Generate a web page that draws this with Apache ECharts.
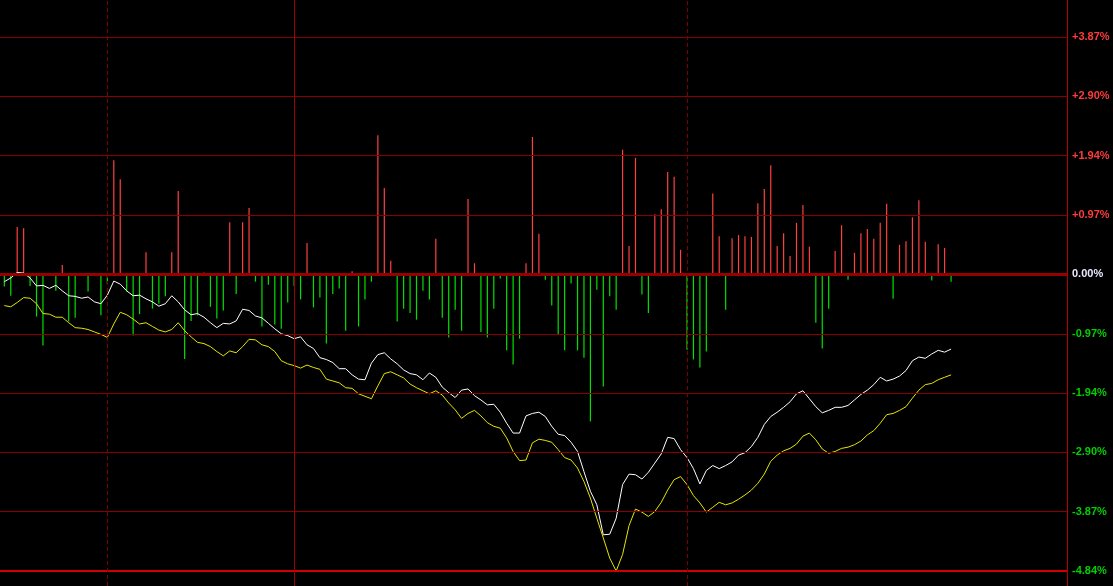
<!DOCTYPE html>
<html><head><meta charset="utf-8">
<script src="https://cdn.jsdelivr.net/npm/echarts@6/dist/echarts.min.js"></script>
<style>html,body{margin:0;padding:0;background:#000;}#c{width:1113px;height:586px;}</style>
</head><body><div id="c"></div>
<script>
// per-minute change bars (%)
const barValues = [
 -0.20,-0.35,0.77,0.75,-0.19,-0.69,-1.16,-0.02,-0.27,0.15,
 -0.77,-0.71,-0.02,-0.28,-0.02,-0.67,-0.16,1.86,1.55,-0.28,
 -1.00,-0.65,0.36,-0.56,-0.48,-0.36,0.36,1.36,-1.38,-0.76,
 -0.67,0.03,-0.53,-0.72,-0.59,0.85,-0.32,0.85,1.08,-0.12,
 -0.85,-0.17,-0.82,-0.89,-0.46,-0.19,-0.41,0.51,-0.54,-0.38,
 -1.13,-0.32,-0.23,-0.92,0.05,-0.85,-0.41,-0.12,2.27,1.41,
 0.22,-0.77,-0.56,-0.63,-0.74,-0.27,-0.41,0.58,-0.71,-1.03,
 -0.58,-0.92,1.23,0.18,-0.94,-1.03,-0.56,-0.07,-1.24,-1.47,
 -1.05,0.18,2.24,0.66,-0.09,-0.51,-0.98,-1.24,-0.15,-1.24,
 -1.36,-2.40,-0.25,-1.83,-0.36,-0.58,2.03,0.46,1.90,-0.33,
 -0.63,0.98,1.06,1.67,1.59,0.40,-1.23,-1.39,-1.52,-1.26,
 1.32,0.62,-0.58,0.59,0.64,0.62,0.61,1.16,1.39,1.78,
 0.46,0.67,0.30,0.84,1.13,0.45,-0.79,-1.21,-0.56,0.38,
 0.80,-0.09,0.35,0.67,0.74,0.58,0.84,1.15,-0.40,0.48,
 0.54,0.93,1.21,0.53,-0.10,0.49,0.43,-0.12
];
// white line (%)
const whiteLine = [
 -0.12,-0.06,0.03,0.02,-0.06,-0.19,-0.18,-0.23,-0.18,-0.27,
 -0.35,-0.36,-0.39,-0.37,-0.45,-0.48,-0.34,-0.11,-0.16,-0.27,
 -0.35,-0.34,-0.40,-0.45,-0.52,-0.48,-0.35,-0.45,-0.58,-0.66,
 -0.64,-0.70,-0.79,-0.87,-0.80,-0.81,-0.76,-0.57,-0.59,-0.68,
 -0.71,-0.80,-0.89,-0.97,-1.00,-1.05,-1.02,-1.15,-1.21,-1.36,
 -1.39,-1.44,-1.54,-1.54,-1.64,-1.71,-1.72,-1.45,-1.31,-1.28,
 -1.38,-1.46,-1.56,-1.62,-1.64,-1.72,-1.61,-1.68,-1.84,-1.93,
 -2.01,-1.89,-1.87,-1.98,-2.05,-2.13,-2.12,-2.25,-2.43,-2.59,
 -2.59,-2.31,-2.27,-2.25,-2.32,-2.48,-2.61,-2.63,-2.74,-2.89,
 -3.22,-3.54,-3.76,-4.25,-4.24,-3.98,-3.43,-3.26,-3.27,-3.34,
 -3.23,-3.08,-2.93,-2.66,-2.68,-2.86,-2.99,-3.17,-3.42,-3.20,
 -3.12,-3.17,-3.12,-3.06,-2.95,-2.91,-2.81,-2.66,-2.45,-2.32,
 -2.25,-2.17,-2.08,-1.95,-1.90,-2.03,-2.16,-2.26,-2.22,-2.17,
 -2.17,-2.14,-2.05,-1.96,-1.89,-1.80,-1.68,-1.74,-1.71,-1.66,
 -1.57,-1.41,-1.35,-1.37,-1.30,-1.24,-1.27,-1.22
];
// yellow line (%)
const yellowLine = [
 -0.51,-0.53,-0.46,-0.38,-0.39,-0.48,-0.64,-0.65,-0.70,-0.70,
 -0.79,-0.87,-0.88,-0.90,-0.94,-0.98,-1.03,-0.81,-0.62,-0.66,
 -0.73,-0.81,-0.79,-0.85,-0.91,-0.94,-0.90,-0.79,-0.92,-1.02,
 -1.11,-1.13,-1.18,-1.26,-1.33,-1.25,-1.28,-1.18,-1.06,-1.07,
 -1.15,-1.18,-1.26,-1.41,-1.46,-1.49,-1.53,-1.48,-1.52,-1.55,
 -1.71,-1.74,-1.77,-1.85,-1.86,-1.95,-1.99,-2.03,-1.82,-1.62,
 -1.59,-1.64,-1.69,-1.79,-1.85,-1.90,-1.95,-1.90,-1.97,-2.10,
 -2.21,-2.35,-2.27,-2.22,-2.31,-2.42,-2.48,-2.51,-2.67,-2.89,
 -3.04,-3.03,-2.75,-2.69,-2.71,-2.74,-2.86,-2.99,-3.03,-3.16,
 -3.38,-3.65,-3.98,-4.30,-4.63,-4.84,-4.57,-4.10,-3.83,-3.88,
 -3.95,-3.87,-3.72,-3.52,-3.35,-3.30,-3.43,-3.61,-3.73,-3.88,
 -3.80,-3.72,-3.76,-3.73,-3.67,-3.60,-3.52,-3.41,-3.26,-3.05,
 -2.95,-2.88,-2.84,-2.77,-2.64,-2.59,-2.70,-2.85,-2.92,-2.89,
 -2.84,-2.82,-2.78,-2.72,-2.62,-2.55,-2.43,-2.29,-2.27,-2.22,
 -2.16,-2.02,-1.89,-1.80,-1.78,-1.72,-1.68,-1.64
];
// right axis tick values (%)
const tickValues = [-4.84,-3.872,-2.904,-1.936,-0.968,0,0.968,1.936,2.904,3.872];
const dividerIndices = [16,106];
const cursorIndex = 45;
const xMin = -0.67, xMax = 165;

const pair = a => a.map((v,i)=>[i,v]);
const gridLines = tickValues.map(v => {
  let ls = {color:'#8a0000', width:1, type:'solid'};
  if (v === 0) ls = {color:'#960000', width:3, type:'solid'};
  if (v === tickValues[0]) ls = {color:'#d00000', width:2, type:'solid'};
  return {yAxis:v, lineStyle:ls};
});
const vLines = dividerIndices.map(i => ({xAxis:i, lineStyle:{color:'#800000', width:1, type:[4,3]}}))
  .concat([{xAxis:cursorIndex, lineStyle:{color:'#a00000', width:1, type:'solid'}},
           {xAxis:xMax, lineStyle:{color:'#b00000', width:1, type:'solid'}}]);

const chart = echarts.init(document.getElementById('c'), null, {renderer:'canvas'});
chart.setOption({
  backgroundColor:'#000',
  animation:false,
  grid:{left:0, right:46, top:0, bottom:0},
  xAxis:{type:'value', min:xMin, max:xMax, show:false},
  yAxis:{
    type:'value', position:'right', min:-5.085, max:4.475,
    axisLine:{show:false},
    axisTick:{show:false},
    splitLine:{show:false},
    axisLabel:{
      customValues:tickValues, margin:5, fontSize:11, fontWeight:'bold',
      fontFamily:'Liberation Sans, Arial, sans-serif',
      formatter: v => { v = Number(v); return (v > 0.0001 ? '+' : '') + v.toFixed(2) + '%'; },
      color: v => { v = Number(v); return v > 0.0001 ? '#ff3c3c' : (v < -0.0001 ? '#00d000' : '#e8e8ff'); }
    }
  },
  series:[
    {type:'bar', data:pair(barValues), barWidth:1.2, z:2,
     itemStyle:{color: p => p.value[1] >= 0 ? '#ff4040' : '#00e000'},
     markLine:{silent:true, symbol:['none','none'], label:{show:false}, animation:false,
       data: gridLines.concat(vLines)}},
    {type:'line', data:pair(whiteLine), symbol:'none', z:3, lineStyle:{color:'#ffffff', width:1}},
    {type:'line', data:pair(yellowLine), symbol:'none', z:3, lineStyle:{color:'#e6e600', width:1}}
  ]
});
</script>
</body></html>
